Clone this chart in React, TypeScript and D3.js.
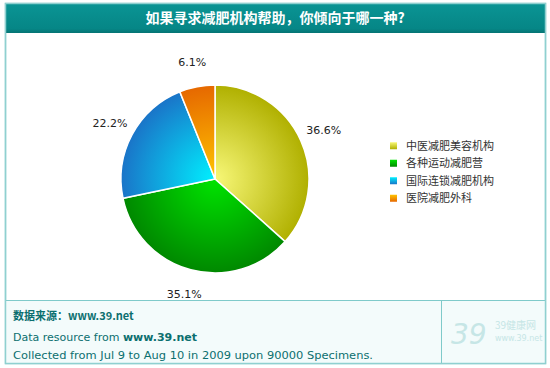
import React, { useEffect, useRef } from 'react';
import * as d3 from 'd3';

// survey result: which kind of slimming institution people prefer
const categories = ['中医减肥美容机构', '各种运动减肥营', '国际连锁减肥机构', '医院减肥外科'];
const shares = [36.6, 35.1, 22.2, 6.1];
const labels = ['36.6%', '35.1%', '22.2%', '6.1%'];

const title = '如果寻求减肥机构帮助，你倾向于哪一种?';
const sourceLine = '数据来源：www.39.net';
const footLines = ['Data resource from ', 'Collected from Jul 9 to Aug 10 in 2009 upon 90000 Specimens.'];

const App = () => {
  const ref = useRef<SVGSVGElement>(null);

  useEffect(() => {
    const W = 550;
    const svg = d3.select(ref.current);
    svg.selectAll('*').remove();

    const defs = svg.append('defs');
    const hdr = defs.append('linearGradient').attr('id', 'hdr').attr('x1', 0).attr('y1', 0).attr('x2', 0).attr('y2', 1);
    hdr.append('stop').attr('offset', '0%').attr('stop-color', '#0a9494');
    hdr.append('stop').attr('offset', '85%').attr('stop-color', '#068686');
    hdr.append('stop').attr('offset', '100%').attr('stop-color', '#057474');

    // frame
    svg.append('rect').attr('x', 5.5).attr('y', 3.5).attr('width', 540).attr('height', 360)
      .attr('fill', '#fff').attr('stroke', '#a6dada').attr('stroke-width', 1.5);
    svg.append('rect').attr('x', 6).attr('y', 4).attr('width', 539).attr('height', 29).attr('fill', 'url(#hdr)');
    svg.append('text').attr('x', W / 2).attr('y', 23).attr('text-anchor', 'middle')
      .attr('font-family', '"Noto Sans CJK SC", sans-serif').attr('font-size', 14).attr('font-weight', 'bold')
      .attr('fill', '#fff').text(title);

    // footer
    svg.append('rect').attr('x', 6).attr('y', 300).attr('width', 539).attr('height', 63).attr('fill', '#f3fbfb');
    svg.append('line').attr('x1', 6).attr('x2', 545).attr('y1', 300.5).attr('y2', 300.5).attr('stroke', '#7fcaca');
    svg.append('line').attr('x1', 441.5).attr('x2', 441.5).attr('y1', 300).attr('y2', 363).attr('stroke', '#7fcaca');
    svg.append('rect').attr('x', 5.5).attr('y', 3.5).attr('width', 540).attr('height', 360)
      .attr('fill', 'none').attr('stroke', '#8fd0d0').attr('stroke-width', 1.5);

    const foot = svg.append('g').attr('font-family', '"DejaVu Sans", Verdana, sans-serif').attr('fill', '#0b6f6f');
    foot.append('text').attr('x', 13).attr('y', 320).attr('font-size', 11).attr('font-weight', 'bold')
      .attr('font-family', '"Noto Sans CJK SC", "DejaVu Sans", sans-serif').text(sourceLine);
    const t1 = foot.append('text').attr('x', 13).attr('y', 341).attr('font-size', 11);
    t1.append('tspan').text(footLines[0]);
    t1.append('tspan').attr('font-weight', 'bold').text('www.39.net');
    foot.append('text').attr('x', 13).attr('y', 359).attr('font-size', 11)
      .attr('textLength', 360).attr('lengthAdjust', 'spacingAndGlyphs').text(footLines[1]);

    // logo
    const logo = svg.append('g').attr('fill', '#c6e6e6');
    logo.append('text').attr('x', 451).attr('y', 344).attr('font-size', 28)
      .attr('font-style', 'italic').attr('font-family', '"DejaVu Sans", sans-serif').text('39');
    logo.append('text').attr('x', 495).attr('y', 329).attr('font-size', 10)
      .attr('font-family', '"Noto Sans CJK SC", sans-serif').text('39健康网');
    logo.append('text').attr('x', 495).attr('y', 341).attr('font-size', 8)
      .attr('font-family', '"DejaVu Sans", sans-serif').text('www.39.net');

    // pie
    const cx = 215;
    const cy = 179;
    const r = 94;
    const inner = ['#f8f878', '#00e400', '#00f0ff', '#ffc400'];
    const outer = ['#b0b000', '#008800', '#1a74c8', '#e66800'];

    categories.forEach((c, i) => {
      const g = defs.append('radialGradient').attr('id', `sl${i}`).attr('gradientUnits', 'userSpaceOnUse')
        .attr('cx', 0).attr('cy', 0).attr('r', r).attr('fx', 0).attr('fy', 0);
      g.append('stop').attr('offset', '0%').attr('stop-color', inner[i]);
      g.append('stop').attr('offset', '100%').attr('stop-color', outer[i]);
      const lg = defs.append('linearGradient').attr('id', `lg${i}`).attr('x1', 0).attr('y1', 0).attr('x2', 0).attr('y2', 1);
      lg.append('stop').attr('offset', '0%').attr('stop-color', inner[i]);
      lg.append('stop').attr('offset', '100%').attr('stop-color', outer[i]);
    });

    const pie = d3.pie<number>().sort(null).value((d) => d);
    const arcs = pie(shares);
    const arc = d3.arc<d3.PieArcDatum<number>>().innerRadius(0).outerRadius(r);
    const labelArc = d3.arc<d3.PieArcDatum<number>>().innerRadius(r + 25).outerRadius(r + 25);

    const pg = svg.append('g').attr('transform', `translate(${cx},${cy})`);
    pg.selectAll('path').data(arcs).enter().append('path')
      .attr('d', arc)
      .attr('fill', (d, i) => `url(#sl${i})`)
      .attr('stroke', '#fff').attr('stroke-width', 1.5);

    pg.selectAll('text').data(arcs).enter().append('text')
      .attr('transform', (d) => `translate(${labelArc.centroid(d)})`)
      .attr('dy', '0.35em').attr('text-anchor', 'middle')
      .attr('font-family', '"DejaVu Sans", Verdana, sans-serif').attr('font-size', 11).attr('fill', '#222')
      .text((d, i) => labels[i]);

    // legend
    const y = d3.scaleBand().domain(categories).range([137, 207]);
    const row = svg.append('g').selectAll('g').data(categories).enter().append('g')
      .attr('transform', (d) => `translate(390,${y(d)! + y.bandwidth() / 2})`);
    row.append('rect').attr('x', 0).attr('y', -3.5).attr('width', 7).attr('height', 7)
      .attr('fill', (d, i) => `url(#lg${i})`);
    row.append('text').attr('x', 16).attr('dy', '0.36em')
      .attr('font-family', '"Noto Sans CJK SC", sans-serif').attr('font-size', 11).attr('fill', '#333')
      .text((d) => d);
  }, []);

  return (
    <div style={{ position: 'absolute', left: 0, top: 0 }}>
      <svg ref={ref} width={550} height={368} style={{ display: 'block' }} />
    </div>
  );
};

export default App;
